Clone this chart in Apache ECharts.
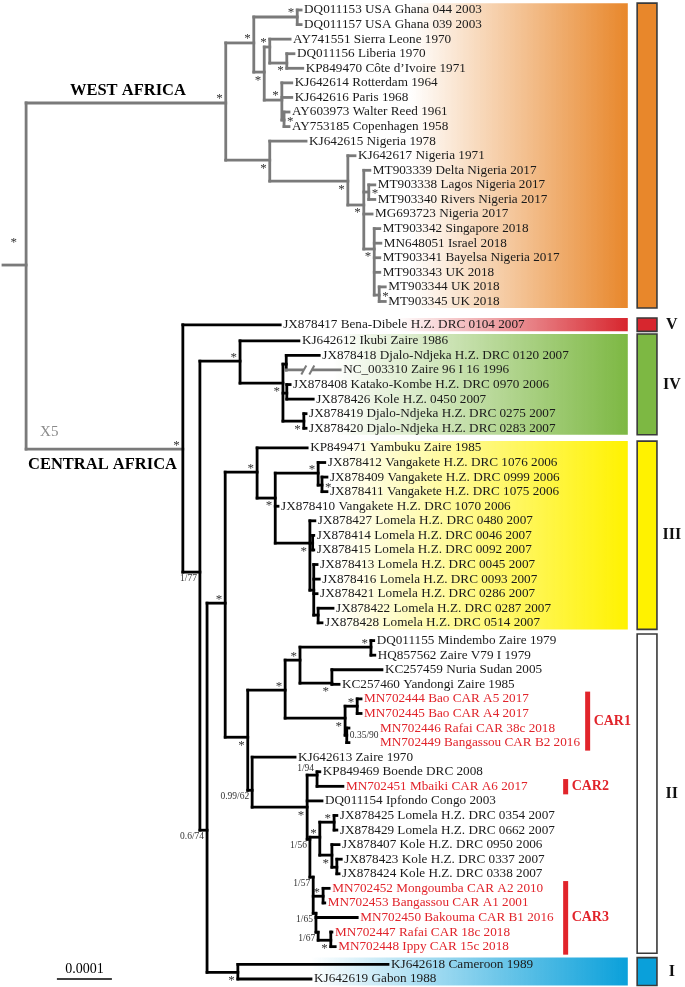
<!DOCTYPE html>
<html><head><meta charset="utf-8">
<script src="https://cdn.jsdelivr.net/npm/echarts@6/dist/echarts.min.js"></script>
<style>html,body{margin:0;padding:0;background:#fff}#c{width:685px;height:987px}</style>
</head><body><div id="c"></div><script>
// ---------------- DATA ----------------
const tipNames = [
 'DQ011153 USA Ghana 044 2003','DQ011157 USA Ghana 039 2003','AY741551 Sierra Leone 1970','DQ011156 Liberia 1970',
 'KP849470 Côte d\u2019Ivoire 1971','KJ642614 Rotterdam 1964','KJ642616 Paris 1968','AY603973 Walter Reed 1961',
 'AY753185 Copenhagen 1958','KJ642615 Nigeria 1978','KJ642617 Nigeria 1971','MT903339 Delta Nigeria 2017',
 'MT903338 Lagos Nigeria 2017','MT903340 Rivers Nigeria 2017','MG693723 Nigeria 2017','MT903342 Singapore 2018',
 'MN648051 Israel 2018','MT903341 Bayelsa Nigeria 2017','MT903343 UK 2018','MT903344 UK 2018','MT903345 UK 2018',
 'JX878417 Bena-Dibele H.Z. DRC 0104 2007',
 'KJ642612 Ikubi Zaire 1986','JX878418 Djalo-Ndjeka H.Z. DRC 0120 2007','NC_003310 Zaire 96 I 16 1996',
 'JX878408 Katako-Kombe H.Z. DRC 0970 2006','JX878426 Kole H.Z. 0450 2007','JX878419 Djalo-Ndjeka H.Z. DRC 0275 2007',
 'JX878420 Djalo-Ndjeka H.Z. DRC 0283 2007',
 'KP849471 Yambuku Zaire 1985','JX878412 Vangakete H.Z. DRC 1076 2006','JX878409 Vangakete H.Z. DRC 0999 2006',
 'JX878411 Vangakete H.Z. DRC 1075 2006','JX878410 Vangakete H.Z. DRC 1070 2006','JX878427 Lomela H.Z. DRC 0480 2007',
 'JX878414 Lomela H.Z. DRC 0046 2007','JX878415 Lomela H.Z. DRC 0092 2007','JX878413 Lomela H.Z. DRC 0045 2007',
 'JX878416 Lomela H.Z. DRC 0093 2007','JX878421 Lomela H.Z. DRC 0286 2007','JX878422 Lomela H.Z. DRC 0287 2007',
 'JX878428 Lomela H.Z. DRC 0514 2007',
 'DQ011155 Mindembo Zaire 1979','HQ857562 Zaire V79 I 1979','KC257459 Nuria Sudan 2005','KC257460 Yandongi Zaire 1985',
 'MN702444 Bao CAR A5 2017','MN702445 Bao CAR A4 2017','MN702446 Rafai CAR 38c 2018','MN702449 Bangassou CAR B2 2016',
 'KJ642613 Zaire 1970','KP849469 Boende DRC 2008','MN702451 Mbaiki CAR A6 2017','DQ011154 Ipfondo Congo 2003',
 'JX878425 Lomela H.Z. DRC 0354 2007','JX878429 Lomela H.Z. DRC 0662 2007','JX878407 Kole H.Z. DRC 0950 2006',
 'JX878423 Kole H.Z. DRC 0337 2007','JX878424 Kole H.Z. DRC 0338 2007','MN702452 Mongoumba CAR A2 2010',
 'MN702453 Bangassou CAR A1 2001','MN702450 Bakouma CAR B1 2016','MN702447 Rafai CAR 18c 2018','MN702448 Ippy CAR 15c 2018',
 'KJ642618 Cameroon 1989','KJ642619 Gabon 1988'
];
// tip depth (root-to-tip distance, units of 1e-6 subst./site)
const tipDepth = [
 542,542,522,529,545,525,525,520,520,551,640,667,676,676,671,685,687,685,685,695,695,
 504,
 538,575,613,522,564,551,551,
 553,585,589,589,500,567,565,565,571,575,571,600,580,
 674,676,689,611,651,651,629,629,531,576,618,580,607,607,611,615,611,593,585,644,598,604,
 700,560
];
const cladeLabels = ['', 'V', 'IV', 'III', 'II', 'I'];
const cladeSizes  = [21, 1, 7, 13, 22, 2];
const cladeGap    = [0, 0.6, 0.7, 1.05, 1.27, 1.49];   // extra row spacing before each clade
const cladeColors = ['#E8872B', '#D7262E', '#7DB843', '#FFF200', '#FFFFFF', '#0AA0DA'];
const carTips = [46,47,48,49,52,59,60,61,62,63];
const carGroups = ['CAR1','CAR2','CAR3'];
const carFirst  = [46, 52, 59];
const carLast   = [49, 52, 63];
// internal nodes: [id, depth, row, children]
const nodes = [
 ['root',42,17.50,['WA','CA']],
 ['WA',405,6.38,['U','NG']],
 ['U',456,2.26,['GH','B']],
 ['GH',535,0.48,[0,1]],
 ['B',475,4.26,['C','D']],
 ['C',485,2.54,[2,'E']],
 ['E',516,3.64,[3,4]],
 ['D',507,6.18,[5,6,'F']],
 ['F',511,7.55,[7,8]],
 ['NG',485,10.30,[9,'G']],
 ['G',627,11.74,[10,'H']],
 ['H',656,13.38,[11,'I',14,'J']],
 ['I',665,12.49,[12,13]],
 ['J',675,16.40,[15,16,17,18,'K']],
 ['K',684,19.56,[19,20]],
 ['CA',327,30.13,[21,'N1']],
 ['N1',358,38.57,['IV','N2']],
 ['IV',431,24.09,[22,'L']],
 ['L',509,25.60,['M','Q','P']],
 ['M',515,24.30,[23,24]],
 ['Q',516,26.29,[25,26]],
 ['P',547,28.21,[27,28]],
 ['N2',371,56.28,['N3','CI']],
 ['N3',404,40.70,['III','W']],
 ['III',462,31.71,[29,'S']],
 ['S',495,33.49,['T',33,'U2']],
 ['T',573,31.78,[30,'T2']],
 ['T2',580,32.60,[31,32]],
 ['U2',558,36.58,[34,'V1','V2']],
 ['V1',563,36.58,[35,36]],
 ['V2',565,39.81,[37,38,39,'V3']],
 ['V3',573,41.52,[40,41]],
 ['W',445,49.90,['X','Y']],
 ['X',513,46.67,['X1','X2']],
 ['X1',540,44.61,['XA','XB']],
 ['XA',669,43.72,[42,43]],
 ['XB',598,46.19,[44,45]],
 ['X2',622,48.59,['C1a','C1b']],
 ['C1a',644,47.77,[46,47]],
 ['C1b',625,49.76,[48,49]],
 ['Y',453,53.54,[50,'Z']],
 ['Z',553,54.70,['AA',53,'Z2']],
 ['AA',571,52.50,[51,52]],
 ['Z2',558,56.90,['LK','Z3']],
 ['LK',576,56.76,['LL','KK']],
 ['LL',602,55.73,[54,55]],
 ['KK',598,57.99,[56,'KK2']],
 ['KK2',607,58.82,[57,58]],
 ['Z3',564,59.50,['CC','Z4']],
 ['CC',582,60.81,[59,60]],
 ['Z4',569,61.98,[61,'Z5']],
 ['Z5',573,63.28,['DD']],
 ['DD',596,63.83,[62,63]],
 ['CI',427,66.03,[64,65]]
];
// support values: [node, text, placement]
const supports = [
 ['root','*','t'],['WA','*','a'],['U','*','a'],['GH','*','a'],['B','*','b'],['C','*','a'],['E','*','b'],
 ['D','*','a'],['F','*','r'],['NG','*','b'],['G','*','b'],['H','*','b'],['I','*','r'],['J','*','b'],['K','*','r'],
 ['CA','*','a'],['N1','1/77','b'],['IV','*','a'],['L','*','b'],['P','*','b'],['N2','0.6/74','b'],['N3','*','a'],
 ['III','*','a'],['S','*','b'],['T','*','a'],['T2','*','r'],['U2','*','b'],['W','*','b'],['X','*','a'],['X1','*','a'],
 ['XA','*','a'],['XB','*','b'],['X2','*','b'],['C1a','*','a'],['C1b','0.35/90','r'],['Y','0.99/62','b'],['Z','*','b'],
 ['AA','1/94','a'],['Z2','1/56','b'],['LK','*','a'],['LL','*','a'],['KK','*','b'],['Z3','1/57','b'],['CC','*','a'],
 ['Z4','1/65','b'],['Z5','1/67','b'],['DD','*','b'],['CI','*','b']
];
const scaleBar = 100;          // 0.0001 subst./site
const scaleLabel = '0.0001';
const brokenTip = 24;          // NC_003310 branch drawn shortened

// ---------------- LAYOUT ----------------
const tipClade = [];
cladeSizes.forEach((n, c) => { for (let i = 0; i < n; i++) tipClade.push(c); });
const tipRow = tipNames.map((_, i) => i + cladeGap[tipClade[i]]);
const lastRow = tipRow[tipRow.length - 1];
const nodeById = new Map(nodes.map(n => [n[0], n]));
const pos = new Map();
nodes.forEach(n => pos.set(n[0], [n[1], n[2]]));
tipNames.forEach((_, i) => pos.set(i, [tipDepth[i], tipRow[i]]));
const gray = new Set(['root', brokenTip]);
(function mark(id){ gray.add(id); const n = nodeById.get(id); if (n) n[3].forEach(mark); })('WA');

const segs = [];
const root = nodeById.get('root');
segs.push([0, root[2], root[1], root[2], 1]);
nodes.forEach(n => {
  const [id, x, y, kids] = n;
  const ys = kids.map(k => pos.get(k)[1]).concat([y]);
  segs.push([x, Math.min(...ys), x, Math.max(...ys), gray.has(id) ? 1 : 0]);
  kids.forEach(k => {
    const p = pos.get(k);
    segs.push([x, p[1], p[0], p[1], (gray.has(id) || gray.has(k)) ? 1 : 0]);
  });
});

const SERIF = '"Liberation Serif","Times New Roman",serif';
const RED = '#E1242B';
const GRAYC = '#7a7a7a';
const BAND_LEFT = [740, 715, 600, 600, null, 560];
const BAND_RIGHT = 1136, BOX_L = 1153, BOX_R = 1189, ROMAN_X = 1216;
const CAR_BAR_X = [1063, 1023, 1023];

function hexA(h, a){ const v = parseInt(h.slice(1), 16); return `rgba(${v>>16&255},${v>>8&255},${v&255},${a})`; }

const cladeRange = cladeSizes.map((n, c) => {
  const first = tipClade.indexOf(c);
  return [tipRow[first], tipRow[first + n - 1]];
});

const chart = echarts.init(document.getElementById('c'), null, {renderer: 'canvas'});
chart.setOption({
  animation: false,
  grid: {left: 3, right: 0, top: 10, bottom: 8},
  xAxis: {type: 'value', min: 0, max: 1240, show: false},
  yAxis: {type: 'value', min: 0, max: lastRow, inverse: true, show: false},
  series: [
    { // gradient bands
      type: 'custom', clip: false, silent: true, z: 1,
      data: cladeRange.map((r, c) => [c, r[0], r[1]]).filter(d => BAND_LEFT[d[0]] !== null),
      encode: {x: -1, y: [1, 2]},
      renderItem(params, api) {
        const c = api.value(0);
        const a = api.coord([BAND_LEFT[c], api.value(1) - 0.47]);
        const b = api.coord([BAND_RIGHT, api.value(2) + 0.45]);
        return {type: 'rect', shape: {x: a[0], y: a[1], width: b[0] - a[0], height: b[1] - a[1]},
          style: {fill: new echarts.graphic.LinearGradient(0, 0, 1, 0, [
            {offset: 0, color: hexA(cladeColors[c], 0)}, {offset: 1, color: hexA(cladeColors[c], 1)}])}};
      }
    },
    { // clade boxes + roman numerals
      type: 'custom', clip: false, silent: true, z: 2,
      data: cladeRange.map((r, c) => [c, r[0], r[1]]),
      encode: {x: -1, y: [1, 2]},
      renderItem(params, api) {
        const c = api.value(0);
        const top = api.value(1) - (c === 4 ? 0.45 : 0.47), bot = api.value(2) + 0.45;
        const a = api.coord([BOX_L, top]);
        const b = api.coord([BOX_R, bot]);
        const m = api.coord([ROMAN_X, (top + bot) / 2]);
        const ch = [{type: 'rect', shape: {x: a[0], y: a[1], width: b[0] - a[0], height: b[1] - a[1]},
          style: {fill: cladeColors[c], stroke: '#3a3a3a', lineWidth: 1.6}}];
        if (cladeLabels[c]) ch.push({type: 'text', x: m[0], y: m[1],
          style: {text: cladeLabels[c], font: 'bold 16px ' + SERIF, fill: '#111', align: 'center', verticalAlign: 'middle'}});
        return {type: 'group', children: ch};
      }
    },
    { // branches
      type: 'custom', clip: false, silent: true, z: 5,
      data: segs, encode: {x: [0, 2], y: [1, 3]},
      renderItem(params, api) {
        const a = api.coord([api.value(0), api.value(1)]);
        const b = api.coord([api.value(2), api.value(3)]);
        return {type: 'line', shape: {x1: a[0], y1: a[1], x2: b[0], y2: b[1]},
          style: {stroke: api.value(4) ? GRAYC : '#000', lineWidth: 2.8, lineCap: 'square'}};
      }
    },
    { // break mark on shortened branch
      type: 'custom', clip: false, silent: true, z: 6,
      data: [[nodeById.get('M')[1], tipRow[brokenTip], tipDepth[brokenTip]]],
      encode: {x: [0, 2], y: 1},
      renderItem(params, api) {
        const a = api.coord([api.value(0), api.value(1)]);
        const b = api.coord([api.value(2), api.value(1)]);
        const cx = a[0] + (b[0] - a[0]) * 0.4;
        const sl = (x) => ({type: 'line', shape: {x1: x - 2.5, y1: a[1] + 4.5, x2: x + 2.5, y2: a[1] - 4.5},
          style: {stroke: GRAYC, lineWidth: 2}});
        return {type: 'group', children: [
          {type: 'rect', shape: {x: cx - 4, y: a[1] - 3, width: 8, height: 6}, style: {fill: '#fff'}},
          sl(cx - 4), sl(cx + 4)]};
      }
    },
    { // tip labels
      type: 'custom', clip: false, silent: true, z: 7,
      data: tipNames.map((_, i) => [tipDepth[i], tipRow[i], i]),
      encode: {x: 0, y: 1},
      renderItem(params, api) {
        const i = api.value(2);
        const p = api.coord([api.value(0), api.value(1)]);
        const pad = (i === 48 || i === 49) ? 31 : 3;
        return {type: 'text', x: p[0] + pad, y: p[1],
          style: {text: tipNames[i], font: '13.2px ' + SERIF, fill: carTips.includes(i) ? RED : '#1a1a1a',
            align: 'left', verticalAlign: 'middle'}};
      }
    },
    { // support values
      type: 'custom', clip: false, silent: true, z: 8,
      data: supports.map((s, k) => [nodeById.get(s[0])[1], nodeById.get(s[0])[2], k]),
      encode: {x: 0, y: 1},
      renderItem(params, api) {
        const s = supports[api.value(2)];
        const c = api.coord([api.value(0), api.value(1)]);
        const star = s[1] === '*';
        let x, y, align;
        if (s[2] === 'a') { x = c[0] - 3; y = c[1] - (star ? 4 : 7); align = 'right'; }
        else if (s[2] === 't') { x = c[0] - 9; y = c[1] - 22; align = 'right'; }
        else if (s[2] === 'b') { x = c[0] - 3; y = c[1] + (star ? 8 : 6); align = 'right'; }
        else { x = c[0] + 3; y = c[1] + (star ? 2 : 0); align = 'left'; }
        return {type: 'text', x, y, style: {text: s[1], fill: '#333',
          font: (star ? '13px ' : '9.5px ') + SERIF, align, verticalAlign: 'middle'}};
      }
    },
    { // CAR groups
      type: 'custom', clip: false, silent: true, z: 8,
      data: carGroups.map((g, k) => [k, tipRow[carFirst[k]], tipRow[carLast[k]]]),
      encode: {x: -1, y: [1, 2]},
      renderItem(params, api) {
        const k = api.value(0);
        const a = api.coord([CAR_BAR_X[k], api.value(1) - 0.5]);
        const b = api.coord([CAR_BAR_X[k], api.value(2) + 0.55]);
        return {type: 'group', children: [
          {type: 'rect', shape: {x: a[0] - 2.5, y: a[1], width: 5, height: b[1] - a[1]}, style: {fill: RED}},
          {type: 'text', x: a[0] + 6, y: (a[1] + b[1]) / 2,
            style: {text: carGroups[k], font: 'bold 14px ' + SERIF, fill: RED, align: 'left', verticalAlign: 'middle'}}]};
      }
    },
    { // region annotations and scale bar
      type: 'custom', clip: false, silent: true, z: 9,
      data: [[0]], encode: {x: -1, y: -1},
      renderItem(params, api) {
        const wa = nodeById.get('WA'), ca = nodeById.get('CA');
        const w = api.coord([(root[1] + wa[1]) / 2, wa[2]]);
        const c = api.coord([(root[1] + ca[1]) / 2, ca[2]]);
        const x5 = api.coord([root[1], ca[2]]);
        const s0 = api.coord([98, lastRow]);
        const s1 = api.coord([98 + scaleBar, lastRow]);
        return {type: 'group', children: [
          {type: 'text', x: w[0] + 2, y: w[1] - 12, style: {text: 'WEST AFRICA', font: 'bold 16.5px ' + SERIF, fill: '#000', align: 'center', verticalAlign: 'middle'}},
          {type: 'text', x: c[0] - 2, y: c[1] + 16, style: {text: 'CENTRAL AFRICA', font: 'bold 16.5px ' + SERIF, fill: '#000', align: 'center', verticalAlign: 'middle'}},
          {type: 'text', x: x5[0] + 14, y: x5[1] - 17, style: {text: 'X5', font: '15px ' + SERIF, fill: '#8a8a8a', align: 'left', verticalAlign: 'middle'}},
          {type: 'line', shape: {x1: s0[0], y1: s0[1], x2: s1[0], y2: s1[1]}, style: {stroke: '#000', lineWidth: 1.3}},
          {type: 'text', x: (s0[0] + s1[0]) / 2, y: s0[1] - 10, style: {text: scaleLabel, font: '14px ' + SERIF, fill: '#000', align: 'center', verticalAlign: 'middle'}}
        ]};
      }
    }
  ]
});
</script></body></html>
